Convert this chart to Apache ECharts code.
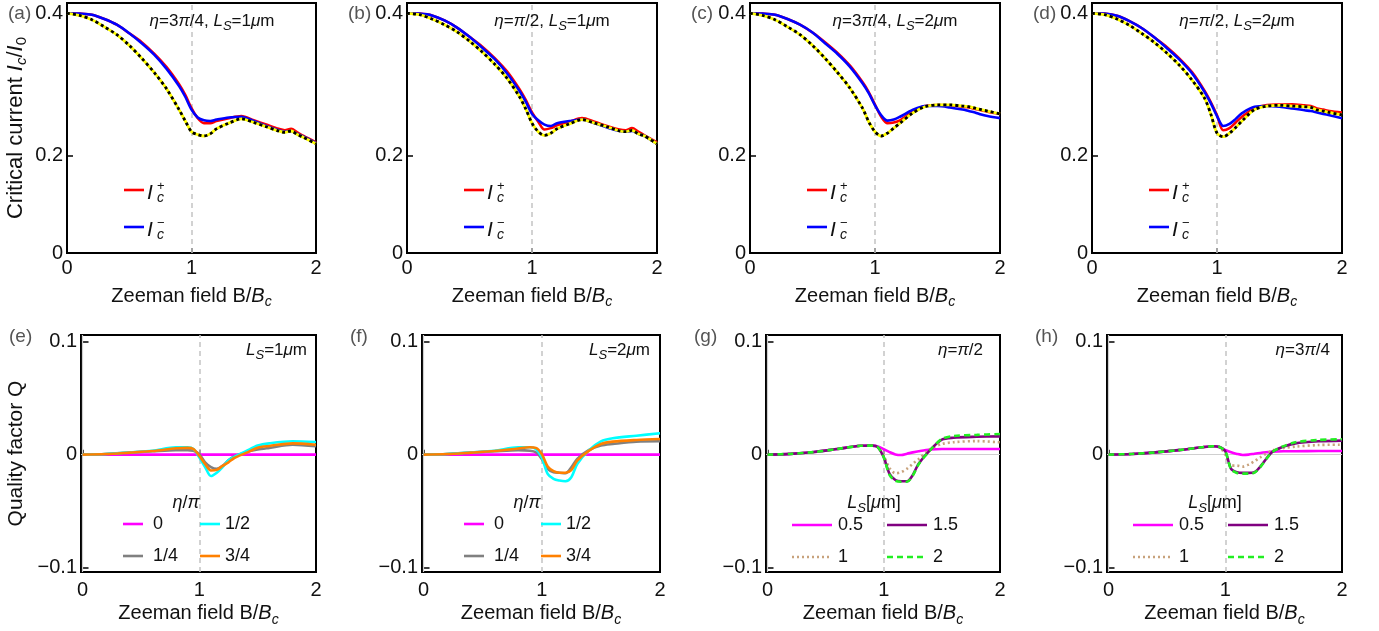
<!DOCTYPE html>
<html>
<head>
<meta charset="utf-8">
<script src="https://cdn.jsdelivr.net/npm/echarts@6/dist/echarts.min.js"></script>
<style>
  html, body { margin: 0; padding: 0; background: #fff; }
  #chart { width: 1379px; height: 631px; }
</style>
</head>
<body>
<div id="chart"></div>
<script>
// Critical currents I_c^± and quality factor Q versus Zeeman field B/B_c

// ---- field samples (B/B_c) ----
const fieldTop = [0, 0.1, 0.2, 0.3, 0.4, 0.5, 0.6, 0.7, 0.8, 0.9, 0.95, 1.0, 1.05, 1.1, 1.15, 1.2, 1.3, 1.4, 1.5, 1.6, 1.7, 1.75, 1.8, 1.85, 1.9, 2.0];
const fieldBottom = [0, 0.2, 0.4, 0.6, 0.8, 0.9, 0.95, 1.0, 1.05, 1.1, 1.15, 1.2, 1.25, 1.3, 1.4, 1.5, 1.6, 1.8, 2.0];

// ---- (a) eta = 3pi/4, L_S = 1um ----
const icPlusA  = [0.400, 0.3995, 0.398, 0.392, 0.384, 0.372, 0.3595, 0.3435, 0.3245, 0.3005, 0.2855, 0.267, 0.253, 0.246, 0.246, 0.249, 0.253, 0.256, 0.250, 0.244, 0.238, 0.236, 0.238, 0.233, 0.228, 0.219];
const icMinusA = [0.400, 0.3995, 0.398, 0.392, 0.384, 0.372, 0.358, 0.342, 0.322, 0.298, 0.283, 0.265, 0.254, 0.250, 0.249, 0.251, 0.254, 0.255, 0.249, 0.242, 0.236, 0.234, 0.235, 0.231, 0.227, 0.218];
const icRefA   = [0.400, 0.397, 0.391, 0.381, 0.370, 0.355, 0.337, 0.317, 0.294, 0.265, 0.249, 0.234, 0.230, 0.228, 0.231, 0.238, 0.246, 0.252, 0.247, 0.241, 0.235, 0.233, 0.235, 0.230, 0.226, 0.217];

// ---- (b) eta = pi/2, L_S = 1um ----
const icPlusB  = [0.400, 0.3995, 0.397, 0.390, 0.380, 0.367, 0.3535, 0.3375, 0.3185, 0.2935, 0.2785, 0.261, 0.248, 0.237, 0.239, 0.243, 0.248, 0.253, 0.248, 0.242, 0.237, 0.236, 0.239, 0.234, 0.229, 0.219];
const icMinusB = [0.400, 0.3995, 0.397, 0.390, 0.380, 0.367, 0.352, 0.336, 0.316, 0.291, 0.276, 0.259, 0.250, 0.244, 0.242, 0.246, 0.249, 0.251, 0.246, 0.240, 0.235, 0.234, 0.235, 0.231, 0.228, 0.217];
const icRefB   = [0.400, 0.398, 0.392, 0.384, 0.374, 0.361, 0.346, 0.329, 0.309, 0.283, 0.266, 0.246, 0.234, 0.229, 0.232, 0.238, 0.245, 0.251, 0.246, 0.241, 0.235, 0.234, 0.236, 0.231, 0.228, 0.217];

// ---- (c) eta = 3pi/4, L_S = 2um ----
const icPlusC  = [0.400, 0.3995, 0.398, 0.392, 0.384, 0.373, 0.3595, 0.3445, 0.3265, 0.3035, 0.2895, 0.272, 0.255, 0.246, 0.247, 0.250, 0.262, 0.270, 0.2715, 0.271, 0.269, 0.268, 0.266, 0.264, 0.262, 0.259];
const icMinusC = [0.400, 0.3995, 0.398, 0.392, 0.384, 0.373, 0.358, 0.343, 0.325, 0.302, 0.288, 0.271, 0.257, 0.2495, 0.251, 0.255, 0.2645, 0.270, 0.270, 0.268, 0.265, 0.263, 0.261, 0.258, 0.256, 0.253];
const icRefC   = [0.400, 0.397, 0.391, 0.381, 0.370, 0.355, 0.337, 0.317, 0.295, 0.267, 0.248, 0.234, 0.228, 0.232, 0.239, 0.246, 0.260, 0.269, 0.2715, 0.2715, 0.270, 0.269, 0.267, 0.265, 0.263, 0.259];

// ---- (d) eta = pi/2, L_S = 2um ----
const icPlusD  = [0.400, 0.3995, 0.3965, 0.389, 0.379, 0.366, 0.3525, 0.3365, 0.3175, 0.2915, 0.2755, 0.257, 0.236, 0.239, 0.247, 0.255, 0.2667, 0.2715, 0.272, 0.2725, 0.271, 0.270, 0.2667, 0.265, 0.263, 0.261];
const icMinusD = [0.400, 0.3995, 0.3965, 0.389, 0.379, 0.366, 0.351, 0.335, 0.316, 0.290, 0.274, 0.256, 0.242, 0.245, 0.252, 0.260, 0.269, 0.270, 0.269, 0.2667, 0.264, 0.263, 0.261, 0.259, 0.257, 0.253];
const icRefD   = [0.400, 0.398, 0.392, 0.383, 0.3715, 0.359, 0.344, 0.327, 0.3065, 0.281, 0.259, 0.232, 0.227, 0.232, 0.240, 0.249, 0.265, 0.270, 0.271, 0.270, 0.269, 0.268, 0.2645, 0.263, 0.261, 0.2575];

// ---- (e) L_S = 1um, eta/pi = 0, 1/4, 1/2, 3/4 ----
const qE_0   = [0, 0, 0, 0, 0, 0, 0, 0, 0, 0, 0, 0, 0, 0, 0, 0, 0, 0, 0];
const qE_14  = [0, 0.0005, 0.0018, 0.003, 0.004, 0.004, 0.0035, 0.0005, -0.0068, -0.011, -0.0125, -0.010, -0.005, -0.0015, 0.0022, 0.0045, 0.006, 0.0088, 0.0074];
const qE_12  = [0, 0.0006, 0.002, 0.0035, 0.0065, 0.0065, 0.005, -0.0024, -0.011, -0.019, -0.016, -0.011, -0.005, -0.002, 0.003, 0.008, 0.010, 0.0118, 0.0112];
const qE_34  = [0, 0.0005, 0.0018, 0.0032, 0.0056, 0.006, 0.005, -0.001, -0.0083, -0.014, -0.0135, -0.010, -0.0068, -0.003, 0.0015, 0.0062, 0.0077, 0.010, 0.0088];

// ---- (f) L_S = 2um ----
const qF_0   = [0, 0, 0, 0, 0, 0, 0, 0, 0, 0, 0, 0, 0, 0, 0, 0, 0, 0, 0];
const qF_14  = [0, 0.0005, 0.0018, 0.003, 0.004, 0.0035, 0.0021, -0.0038, -0.0127, -0.0156, -0.016, -0.0165, -0.0112, -0.0038, 0.0041, 0.008, 0.0094, 0.0115, 0.0118];
const qF_12  = [0, 0.0006, 0.002, 0.0035, 0.0065, 0.0065, 0.005, -0.0024, -0.017, -0.0215, -0.023, -0.0236, -0.020, -0.0083, 0.004, 0.0118, 0.0145, 0.0168, 0.019];
const qF_34  = [0, 0.0005, 0.0018, 0.0032, 0.0055, 0.0065, 0.006, 0.0006, -0.0106, -0.0147, -0.016, -0.016, -0.0136, -0.0053, 0.0035, 0.0094, 0.0115, 0.013, 0.0139];

// ---- (g) eta = pi/2, L_S = 0.5, 1, 1.5, 2 um ----
const qG_05  = [0, 0.0007, 0.0023, 0.005, 0.0078, 0.008, 0.0072, 0.0048, 0.0022, 0.0002, -0.0003, 0.0008, 0.002, 0.003, 0.0045, 0.005, 0.005, 0.005, 0.005];
const qG_1   = [0, 0.0007, 0.0023, 0.005, 0.0078, 0.008, 0.0065, -0.001, -0.012, -0.0165, -0.0155, -0.0125, -0.008, -0.004, 0.005, 0.0094, 0.011, 0.012, 0.0109];
const qG_15  = [0, 0.0007, 0.0023, 0.005, 0.0078, 0.008, 0.0065, -0.0024, -0.017, -0.0225, -0.0236, -0.0236, -0.018, -0.008, 0.0042, 0.0133, 0.015, 0.0158, 0.0162];
const qG_2   = [0, 0.0007, 0.0023, 0.005, 0.0078, 0.008, 0.0065, -0.0024, -0.018, -0.0232, -0.024, -0.024, -0.0185, -0.0085, 0.004, 0.0139, 0.0165, 0.0175, 0.0183];

// ---- (h) eta = 3pi/4 ----
const qH_05  = [0, 0.0006, 0.002, 0.004, 0.0065, 0.0074, 0.0065, 0.0041, 0.0021, 0.0006, -0.0003, 0, 0.0008, 0.0015, 0.0027, 0.003, 0.003, 0.0032, 0.0032];
const qH_1   = [0, 0.0006, 0.002, 0.004, 0.0065, 0.0074, 0.0068, 0, -0.0097, -0.0097, -0.0106, -0.0088, -0.0059, -0.0024, 0.0035, 0.0059, 0.0071, 0.0085, 0.0088];
const qH_15  = [0, 0.0006, 0.002, 0.004, 0.0065, 0.0074, 0.0068, 0.003, -0.0127, -0.0156, -0.0162, -0.0162, -0.0156, -0.0106, 0.0021, 0.0071, 0.010, 0.0118, 0.0124];
const qH_2   = [0, 0.0006, 0.002, 0.004, 0.0065, 0.0074, 0.0068, 0.003, -0.013, -0.0162, -0.0168, -0.0168, -0.016, -0.011, 0.002, 0.0075, 0.0109, 0.013, 0.0136];

// ---- axis ticks ----
const xTickValues = [0, 1, 2];
const xTickLabels = ['0', '1', '2'];
const topYTickValues = [0.064, 0.2, 0.4];
const topYTickLabels = ['0', '0.2', '0.4'];
const botYTickValues = [-0.1, 0, 0.1];
const botYTickLabels = ['\u22120.1', '0', '0.1'];

// ---- panel texts ----
const panelTags = ['(a)', '(b)', '(c)', '(d)', '(e)', '(f)', '(g)', '(h)'];
const topNotes = [
  '{i|\u03b7}=3{i|\u03c0}/4, {i|L}{s|S}=1{i|\u03bc}m',
  '{i|\u03b7}={i|\u03c0}/2, {i|L}{s|S}=1{i|\u03bc}m',
  '{i|\u03b7}=3{i|\u03c0}/4, {i|L}{s|S}=2{i|\u03bc}m',
  '{i|\u03b7}={i|\u03c0}/2, {i|L}{s|S}=2{i|\u03bc}m'
];
const bottomNotes = [
  '{i|L}{s|S}=1{i|\u03bc}m',
  '{i|L}{s|S}=2{i|\u03bc}m',
  '{i|\u03b7}={i|\u03c0}/2',
  '{i|\u03b7}=3{i|\u03c0}/4'
];
const etaNames = ['0', '1/4', '1/2', '3/4'];
const lsNames = ['0.5', '1', '1.5', '2'];

// ---- styling ----
const FONT = '"Liberation Sans", Arial, Helvetica, sans-serif';
const INK = '#111';
const C_PLUS = '#ff0000', C_MINUS = '#0000ff';
const C_ETA = ['#ff00ff', '#808080', '#00ffff', '#ff8000'];
const C_LS = ['#ff00ff', '#c8a27c', '#800080', '#22ee22'];
const DASH_LS = ['solid', [2, 3], 'solid', [6, 4]];

const topRow = { top: 3, height: 250, lefts: [67, 407, 750, 1092], widths: [249, 250, 250, 250] };
const botRow = { top: 335, height: 237, lefts: [81, 422, 766, 1107], widths: [235, 238, 234, 235] };

const topSets = [
  [icPlusA, icMinusA, icRefA],
  [icPlusB, icMinusB, icRefB],
  [icPlusC, icMinusC, icRefC],
  [icPlusD, icMinusD, icRefD]
];
const botSets = [
  [qE_0, qE_14, qE_12, qE_34],
  [qF_0, qF_14, qF_12, qF_34],
  [qG_05, qG_1, qG_15, qG_2],
  [qH_05, qH_1, qH_15, qH_2]
];

// rich styles for canvas text: italic token "i", italic subscript "s"
function richFor(size) {
  const sub = Math.round(size * 0.74);
  return {
    i: { fontStyle: 'italic', fontSize: size, fontFamily: FONT, lineHeight: size + 6 },
    s: { fontStyle: 'italic', fontSize: sub, fontFamily: FONT, verticalAlign: 'bottom', lineHeight: sub + 1 },
    n: { fontSize: size, fontFamily: FONT, lineHeight: size + 6 }
  };
}

function pairs(xs, ys) { return xs.map((x, i) => [x, ys[i]]); }
function pickLabel(values, labels) {
  return function (v) {
    let k = 0, best = Infinity;
    values.forEach((t, j) => { const d = Math.abs(t - v); if (d < best) { best = d; k = j; } });
    return labels[k];
  };
}

const option = {
  animation: false,
  backgroundColor: '#fff',
  textStyle: { fontFamily: FONT },
  grid: [], xAxis: [], yAxis: [], series: [], graphic: []
};

function addPanel(idx, row, col, isTop) {
  const left = row.lefts[col], width = row.widths[col];
  option.grid.push({
    left: left, top: row.top, width: width, height: row.height,
    show: true, borderColor: '#000', borderWidth: 2, backgroundColor: 'transparent'
  });
  option.xAxis.push({
    gridIndex: idx, type: 'value',
    min: isTop ? 0 : -0.013, max: 2,
    axisLine: { show: false },
    splitLine: { show: false },
    axisTick: { inside: true, length: 5, lineStyle: { color: '#000', width: 1.5 }, customValues: xTickValues },
    axisLabel: { customValues: xTickValues, formatter: pickLabel(xTickValues, xTickLabels),
                 fontSize: 20, color: INK, margin: isTop ? 5 : 8, fontFamily: FONT },
    name: 'Zeeman field B/{i|B}{s|c}', nameLocation: 'middle', nameGap: isTop ? 30 : 22,
    nameTextStyle: { fontSize: 20, color: INK, fontFamily: FONT, lineHeight: 26,
      rich: { i: { fontStyle: 'italic', fontSize: 20, lineHeight: 26 },
              s: { fontStyle: 'italic', fontSize: 14, verticalAlign: 'bottom', lineHeight: 15 } } }
  });
  const yv = isTop ? topYTickValues : botYTickValues;
  const yl = isTop ? topYTickLabels : botYTickLabels;
  const yAx = {
    gridIndex: idx, type: 'value',
    min: isTop ? 0.064 : -0.104, max: isTop ? 0.4144 : 0.106,
    axisLine: { show: false },
    splitLine: { show: false },
    axisTick: { inside: true, length: 6, lineStyle: { color: '#000', width: 1.5 }, customValues: yv },
    axisLabel: { customValues: yv, formatter: pickLabel(yv, yl), fontSize: 20, color: INK, margin: 4, fontFamily: FONT }
  };
  if (col === 0) {
    yAx.name = isTop ? 'Critical current {i|I}{s|c}/{i|I}{s0|0}' : 'Quality factor Q';
    yAx.nameLocation = 'middle';
    yAx.nameRotate = 90;
    yAx.nameGap = isTop ? 38 : 52;
    yAx.nameTextStyle = { fontSize: isTop ? 22 : 21, color: INK, fontFamily: FONT, lineHeight: 26,
      rich: { i: { fontStyle: 'italic', fontSize: 22, lineHeight: 26 },
              s: { fontStyle: 'italic', fontSize: 15, verticalAlign: 'bottom', lineHeight: 15 },
              s0: { fontSize: 15, verticalAlign: 'bottom', lineHeight: 15 } } };
  }
  option.yAxis.push(yAx);

  // guide lines under the curves: dashed B = B_c and, for Q panels, the zero axes
  const guides = [{ xAxis: 1, lineStyle: { color: '#c4c4c4', type: [5, 4], width: 1.5 } }];
  if (!isTop) {
    guides.push({ yAxis: 0, lineStyle: { color: '#cfcfcf', type: 'solid', width: 1.2 } });
    guides.push({ xAxis: 0, lineStyle: { color: '#cfcfcf', type: 'solid', width: 1.2 } });
  }
  option.series.push({
    type: 'line', xAxisIndex: idx, yAxisIndex: idx, data: [], z: 1, silent: true,
    markLine: { silent: true, z: 1, symbol: 'none', label: { show: false }, animation: false, data: guides }
  });
}

function curve(idx, name, xs, ys, color, width, dash, z) {
  option.series.push({
    type: 'line', name: name, xAxisIndex: idx, yAxisIndex: idx,
    data: pairs(xs, ys), showSymbol: false, symbol: 'none', smooth: 0.3, z: z,
    lineStyle: { color: color, width: width, type: dash || 'solid', cap: 'butt' }
  });
}

function text(x, y, str, opt) {
  const o = opt || {};
  const size = o.fontSize || 17;
  return {
    type: 'text', x: x, y: y, silent: true, z: 100,
    style: Object.assign({
      text: str, fill: INK, fontFamily: FONT, fontSize: size,
      align: 'left', textAlign: 'left', verticalAlign: 'middle', textVerticalAlign: 'middle',
      lineHeight: size + 6, rich: richFor(size)
    }, o)
  };
}
function seg(x1, x2, y, color, width, dash) {
  return {
    type: 'line', silent: true, z: 100,
    shape: { x1: x1, y1: y, x2: x2, y2: y },
    style: { stroke: color, lineWidth: width, lineDash: dash === 'solid' ? null : dash }
  };
}

// ---- top row: critical currents ----
for (let c = 0; c < 4; c++) {
  const idx = c;
  addPanel(idx, topRow, c, true);
  const [p, m, r] = topSets[c];
  curve(idx, 'I_c^+', fieldTop, p, C_PLUS, 2.6, 'solid', 3);
  curve(idx, 'I_c^-', fieldTop, m, C_MINUS, 2.6, 'solid', 4);
  curve(idx, 'I_c (reference)', fieldTop, r, '#ffff00', 2.8, 'solid', 5);
  curve(idx, 'I_c (reference) ', fieldTop, r, '#000000', 2.8, [3, 3], 6);

  const L = topRow.lefts[c];
  option.graphic.push(text(L - 59, 14, panelTags[c], { fontSize: 19, fill: '#555' }));
  option.graphic.push(text(L + 145, 21, topNotes[c], { align: 'center', textAlign: 'center' }));
  // legend
  option.graphic.push(seg(L + 57, L + 77, 190, C_PLUS, 2.6, 'solid'));
  option.graphic.push(seg(L + 57, L + 77, 227, C_MINUS, 2.6, 'solid'));
  option.graphic.push(text(L + 80, 193, '{i|I}', { fontSize: 21 }));
  option.graphic.push(text(L + 90, 186, '+', { fontSize: 13 }));
  option.graphic.push(text(L + 90, 198, '{i|c}', { fontSize: 14 }));
  option.graphic.push(text(L + 80, 230, '{i|I}', { fontSize: 21 }));
  option.graphic.push(text(L + 90, 223, '\u2212', { fontSize: 13 }));
  option.graphic.push(text(L + 90, 235, '{i|c}', { fontSize: 14 }));
}

// ---- bottom row: quality factor ----
const noteRight = [307, 650, 983, 1330];
for (let c = 0; c < 4; c++) {
  const idx = 4 + c;
  addPanel(idx, botRow, c, false);
  const set = botSets[c];
  const L = botRow.lefts[c];
  option.graphic.push(text(L - 72, 337, panelTags[idx], { fontSize: 19, fill: '#555' }));
  option.graphic.push(text(noteRight[c], 350, bottomNotes[c], { align: 'right', textAlign: 'right' }));

  if (c < 2) {
    // eta/pi family, drawn in the order 0, 1/4, 1/2, 3/4
    for (let k = 0; k < 4; k++) {
      curve(idx, '\u03b7/\u03c0=' + etaNames[k], fieldBottom, set[k], C_ETA[k], 2.6, 'solid', 3 + k);
    }
    option.graphic.push(text(L + 105, 503, '{i|\u03b7}/{i|\u03c0}', { align: 'center', textAlign: 'center', fontSize: 18 }));
    [[0, 2], [1, 3]].forEach((pair, r) => {
      const y = r === 0 ? 524 : 556;
      option.graphic.push(seg(L + 42, L + 62, y, C_ETA[pair[0]], 2.6, 'solid'));
      option.graphic.push(text(L + 72, y, etaNames[pair[0]], { fontSize: 18 }));
      option.graphic.push(seg(L + 119, L + 139, y, C_ETA[pair[1]], 2.6, 'solid'));
      option.graphic.push(text(L + 144, y, etaNames[pair[1]], { fontSize: 18 }));
    });
  } else {
    for (let k = 0; k < 4; k++) {
      curve(idx, 'L_S=' + lsNames[k], fieldBottom, set[k], C_LS[k], 2.6, DASH_LS[k], 3 + k);
    }
    option.graphic.push(text(L + 108, 503, '{i|L}{s|S}[{i|\u03bc}m]', { align: 'center', textAlign: 'center', fontSize: 18 }));
    [[0, 2], [1, 3]].forEach((pair, r) => {
      const y = r === 0 ? 525 : 557;
      option.graphic.push(seg(L + 26, L + 66, y, C_LS[pair[0]], 2.6, DASH_LS[pair[0]]));
      option.graphic.push(text(L + 72, y, lsNames[pair[0]], { fontSize: 18 }));
      option.graphic.push(seg(L + 121, L + 161, y, C_LS[pair[1]], 2.6, DASH_LS[pair[1]]));
      option.graphic.push(text(L + 167, y, lsNames[pair[1]], { fontSize: 18 }));
    });
  }
}

const chart = echarts.init(document.getElementById('chart'), null, { renderer: 'canvas' });
chart.setOption(option);
</script>
</body>
</html>
